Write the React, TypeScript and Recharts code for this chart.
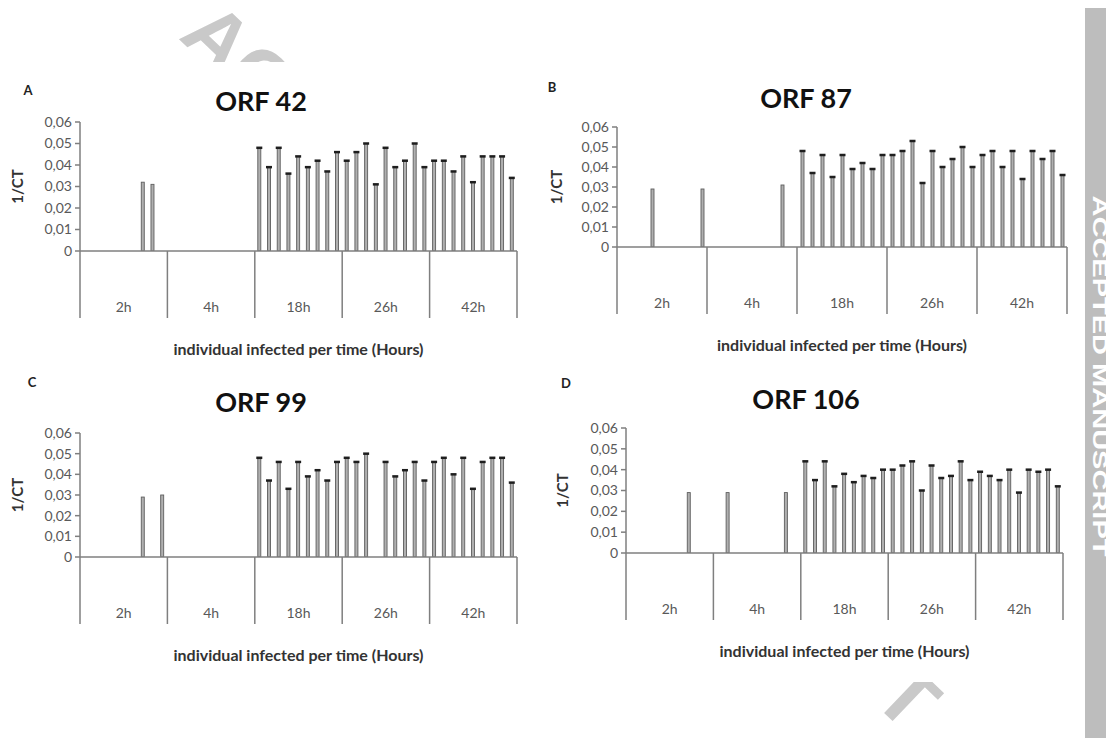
import React from "react";
import { BarChart, Bar, XAxis, YAxis } from "recharts";

const GROUPS = ["2h", "4h", "18h", "26h", "42h"];
const PER_GROUP = 9;
const Y_TICKS = [0, 0.01, 0.02, 0.03, 0.04, 0.05, 0.06];

// one row of 9 individuals per time point, 0 = nothing detected
const orf42 = [
  0, 0, 0, 0, 0, 0, 0.032, 0.031, 0,
  0, 0, 0, 0, 0, 0, 0, 0, 0,
  0.048, 0.039, 0.048, 0.036, 0.044, 0.039, 0.042, 0.037, 0.046,
  0.042, 0.046, 0.05, 0.031, 0.048, 0.039, 0.042, 0.05, 0.039,
  0.042, 0.042, 0.037, 0.044, 0.032, 0.044, 0.044, 0.044, 0.034,
];
const orf87 = [
  0, 0, 0, 0.029, 0, 0, 0, 0, 0.029,
  0, 0, 0, 0, 0, 0, 0, 0.031, 0,
  0.048, 0.037, 0.046, 0.035, 0.046, 0.039, 0.042, 0.039, 0.046,
  0.046, 0.048, 0.053, 0.032, 0.048, 0.04, 0.044, 0.05, 0.04,
  0.046, 0.048, 0.04, 0.048, 0.034, 0.048, 0.044, 0.048, 0.036,
];
const orf99 = [
  0, 0, 0, 0, 0, 0, 0.029, 0, 0.03,
  0, 0, 0, 0, 0, 0, 0, 0, 0,
  0.048, 0.037, 0.046, 0.033, 0.046, 0.039, 0.042, 0.037, 0.046,
  0.048, 0.046, 0.05, 0, 0.046, 0.039, 0.042, 0.046, 0.037,
  0.046, 0.048, 0.04, 0.048, 0.033, 0.046, 0.048, 0.048, 0.036,
];
const orf106 = [
  0, 0, 0, 0, 0, 0, 0.029, 0, 0,
  0, 0.029, 0, 0, 0, 0, 0, 0.029, 0,
  0.044, 0.035, 0.044, 0.032, 0.038, 0.034, 0.037, 0.036, 0.04,
  0.04, 0.042, 0.044, 0.03, 0.042, 0.036, 0.037, 0.044, 0.035,
  0.039, 0.037, 0.035, 0.04, 0.029, 0.04, 0.039, 0.04, 0.032,
];

const FONT = "Lato, 'Open Sans', sans-serif";
const AXIS = "#7f7f7f";
const TICK_TEXT = "#595959";
const X_HEIGHT = 116;

const PANELS = [
  { letter: "A", title: "ORF 42", values: orf42, left: 80, right: 517, top: 122, zero: 251, labelX: 18, letterX: 28, letterY: 90, titleX: 261, titleY: 100 },
  { letter: "B", title: "ORF 87", values: orf87, left: 617, right: 1067, top: 127, zero: 247, labelX: 557, letterX: 552, letterY: 87, titleX: 806, titleY: 97 },
  { letter: "C", title: "ORF 99", values: orf99, left: 80, right: 517, top: 433, zero: 557, labelX: 18, letterX: 32, letterY: 382, titleX: 261, titleY: 401 },
  { letter: "D", title: "ORF 106", values: orf106, left: 626, right: 1063, top: 428, zero: 553, labelX: 563, letterX: 566, letterY: 383, titleX: 806, titleY: 398 },
];

const fmt = (v: number) => (v === 0 ? "0" : v.toFixed(2).replace(".", ","));

function Stem(props: any) {
  const { x, y, width, height, payload } = props;
  if (!height || height <= 0) return null;
  return (
    <g>
      <rect x={x} y={y} width={width} height={height} fill="#b0b0b0" stroke="#5e5e5e" strokeWidth={0.9} />
      {payload.idx >= 2 * PER_GROUP && (
        <line x1={x - 1.5} x2={x + width + 1.5} y1={y} y2={y} stroke="#1e1e1e" strokeWidth={2.5} />
      )}
    </g>
  );
}

function groupTick(band: number) {
  return (props: any) => {
    const { x, y, index } = props;
    const pos = index % PER_GROUP;
    return (
      <g>
        {pos === 0 && (
          <line x1={x - band / 2} x2={x - band / 2} y1={y} y2={y + 67} stroke={AXIS} strokeWidth={1.5} />
        )}
        {index === GROUPS.length * PER_GROUP - 1 && (
          <line x1={x + band / 2} x2={x + band / 2} y1={y} y2={y + 67} stroke={AXIS} strokeWidth={1.5} />
        )}
        {pos === 4 && (
          <text x={x} y={y + 57} textAnchor="middle" dominantBaseline="middle" fill={TICK_TEXT} fontSize={14} fontFamily={FONT}>
            {GROUPS[Math.floor(index / PER_GROUP)]}
          </text>
        )}
      </g>
    );
  };
}

function Panel({ p }: { p: (typeof PANELS)[number] }) {
  const data = p.values.map((v, i) => ({ slot: `s${i}`, idx: i, v: v || null }));
  const chartLeft = p.left - 75;
  const chartTop = p.top - 10;
  const width = p.right - chartLeft + 12;
  const height = p.zero - chartTop + X_HEIGHT;
  const band = (p.right - p.left) / data.length;
  return (
    <>
      <div style={{ position: "absolute", left: chartLeft, top: chartTop }}>
        <BarChart width={width} height={height} data={data} margin={{ top: 10, right: 12, bottom: 0, left: 0 }} barSize={3}>
          <XAxis
            dataKey="slot"
            interval={0}
            tickSize={0}
            tickMargin={0}
            tickLine={false}
            height={X_HEIGHT}
            axisLine={{ stroke: AXIS, strokeWidth: 1.5 }}
            tick={groupTick(band)}
            label={{
              value: "individual infected per time (Hours)",
              position: "insideBottom",
              offset: 12,
              style: { fontFamily: FONT, fontWeight: 700, fontSize: 16, fill: "#333" },
            }}
          />
          <YAxis
            domain={[0, 0.06]}
            ticks={Y_TICKS}
            interval={0}
            allowDataOverflow
            width={75}
            tickSize={5}
            tickMargin={3}
            tickFormatter={fmt}
            axisLine={{ stroke: AXIS, strokeWidth: 1.5 }}
            tickLine={{ stroke: AXIS, strokeWidth: 1.5 }}
            tick={{ fill: TICK_TEXT, fontSize: 14, fontFamily: FONT }}
            label={{
              value: "1/CT",
              angle: -90,
              position: "insideLeft",
              offset: p.labelX - chartLeft,
              style: { textAnchor: "middle", fontFamily: FONT, fontWeight: 700, fontSize: 15, fill: "#333" },
            }}
          />
          <Bar dataKey="v" shape={Stem} isAnimationActive={false} />
        </BarChart>
      </div>
      <div style={{ position: "absolute", left: p.titleX, top: p.titleY, transform: "translate(-50%, -50%)", fontSize: 27, fontWeight: 700, color: "#111", whiteSpace: "nowrap" }}>
        {p.title}
      </div>
      <div style={{ position: "absolute", left: p.letterX, top: p.letterY, transform: "translate(-50%, -50%)", fontSize: 13, fontWeight: 700, color: "#222" }}>
        {p.letter}
      </div>
    </>
  );
}

export default function App() {
  return (
    <div style={{ position: "relative", width: 1114, height: 746, margin: -8, overflow: "hidden", background: "#fff", fontFamily: FONT }}>
      <div
        style={{
          position: "absolute", left: 561, top: 366, transform: "translate(-50%, -50%) rotate(43.7deg)",
          fontFamily: "'Liberation Sans', Arial, sans-serif", fontWeight: 700, fontSize: 81, color: "#c9c9c9", whiteSpace: "nowrap",
        }}
      >
        ACCEPTED MANUSCRIPT
      </div>
      <div style={{ position: "absolute", left: 0, top: 62, width: 1080, height: 620, background: "#fff" }} />
      {PANELS.map((p) => (
        <Panel key={p.letter} p={p} />
      ))}
      <div style={{ position: "absolute", left: 1085, top: 0, width: 29, height: 746, background: "#bdbdbd" }} />
      <div
        style={{
          position: "absolute", left: 1099, top: 376, transform: "translate(-50%, -50%) rotate(90deg) scaleX(1.45)",
          fontFamily: "'Liberation Sans', Arial, sans-serif", fontWeight: 700, fontSize: 20, color: "#fff", whiteSpace: "nowrap",
        }}
      >
        ACCEPTED MANUSCRIPT
      </div>
    </div>
  );
}
